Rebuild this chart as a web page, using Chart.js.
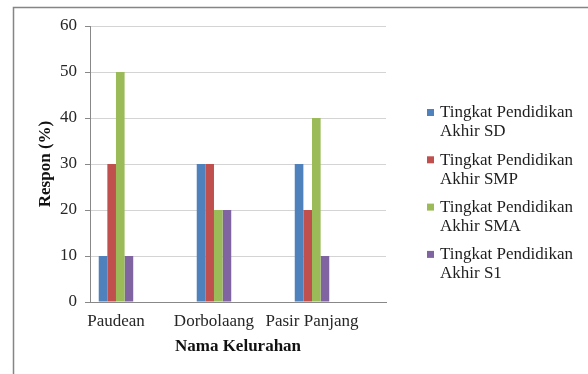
<!DOCTYPE html>
<html>
<head>
<meta charset="utf-8">
<script src="https://cdn.jsdelivr.net/npm/chart.js@4"></script>
<style>
  html, body { margin: 0; padding: 0; background: #fff; }
  #wrap { width: 588px; height: 374px; position: relative; }
</style>
</head>
<body>
<div id="wrap"><canvas id="chart" width="588" height="374"></canvas></div>
<script>
// data
const kelurahan = ['Paudean', 'Dorbolaang', 'Pasir Panjang'];
const seriesNames = [
    'Tingkat Pendidikan Akhir SD',
    'Tingkat Pendidikan Akhir SMP',
    'Tingkat Pendidikan Akhir SMA',
    'Tingkat Pendidikan Akhir S1'
];
const sd  = [10, 30, 30];
const smp = [30, 30, 20];
const sma = [50, 20, 40];
const s1  = [10, 20, 10];
const yTicks = [0, 10, 20, 30, 40, 50, 60];

const colors = ['#4f81bd', '#c0504d', '#9bbb59', '#8064a2'];
const FONT = 'Liberation Serif, Times New Roman, serif';

const toPoints = arr => arr.map((v, i) => ({ x: i, y: v }));
const datasets = [sd, smp, sma, s1].map((vals, i) => ({
    label: seriesNames[i],
    data: toPoints(vals),
    backgroundColor: colors[i],
    borderWidth: 0,
    categoryPercentage: 0.352,
    barPercentage: 1
}));

// frame + side legend (Excel style, two lines per entry)
const frameLegend = {
    id: 'frameLegend',
    beforeDraw(chart) {
        const c = chart.ctx;
        c.save();
        c.strokeStyle = '#858585';
        c.lineWidth = 1.5;
        c.beginPath();
        c.moveTo(13.5, 400);
        c.lineTo(13.5, 7.5);
        c.lineTo(600, 7.5);
        c.stroke();
        c.restore();
    },
    afterDraw(chart) {
        const c = chart.ctx;
        c.save();
        c.font = '17px ' + FONT;
        c.textBaseline = 'middle';
        chart.data.datasets.forEach((ds, i) => {
            const y = 113 + i * 47.3;
            const words = ds.label.split(' ');
            const l1 = words.slice(0, 2).join(' ');
            const l2 = words.slice(2).join(' ');
            c.fillStyle = ds.backgroundColor;
            c.fillRect(427, y - 4, 7, 7);
            c.fillStyle = '#1e1e1e';
            c.fillText(l1, 440, y);
            c.fillText(l2, 440, y + 19);
        });
        c.restore();
    }
};

new Chart(document.getElementById('chart'), {
    type: 'bar',
    data: { datasets: datasets },
    plugins: [frameLegend],
    options: {
        responsive: false,
        animation: false,
        layout: { padding: { left: 13, top: 26, right: 202, bottom: 0 } },
        plugins: { legend: { display: false }, tooltip: { enabled: false } },
        scales: {
            x: {
                type: 'linear',
                offset: false,
                bounds: 'data',
                min: -0.265,
                max: 2.755,
                afterFit: s => { s.height = 72; },
                afterBuildTicks: s => { s.ticks = kelurahan.map((_, i) => ({ value: i })); },
                grid: { display: false, drawTicks: false },
                border: { color: '#888', width: 1 },
                ticks: {
                    autoSkip: false,
                    maxRotation: 0,
                    padding: 9,
                    color: '#262626',
                    font: { family: FONT, size: 17 },
                    callback: v => kelurahan[v]
                },
                title: {
                    display: true,
                    text: 'Nama Kelurahan',
                    color: '#111',
                    font: { family: FONT, size: 17, weight: 'bold' },
                    padding: { top: 4, bottom: 17 }
                }
            },
            y: {
                min: 0,
                max: 60,
                afterFit: s => { s.width = 77; },
                afterBuildTicks: s => { s.ticks = yTicks.map(v => ({ value: v })); },
                grid: { color: '#d4d4d4', tickColor: '#888', tickLength: 5 },
                border: { color: '#888', width: 1 },
                ticks: {
                    padding: 8,
                    color: '#262626',
                    font: { family: FONT, size: 17 }
                },
                title: {
                    display: true,
                    text: 'Respon (%)',
                    color: '#111',
                    font: { family: FONT, size: 17, weight: 'bold' },
                    padding: { top: 22, bottom: 0 }
                }
            }
        }
    }
});
</script>
</body>
</html>
